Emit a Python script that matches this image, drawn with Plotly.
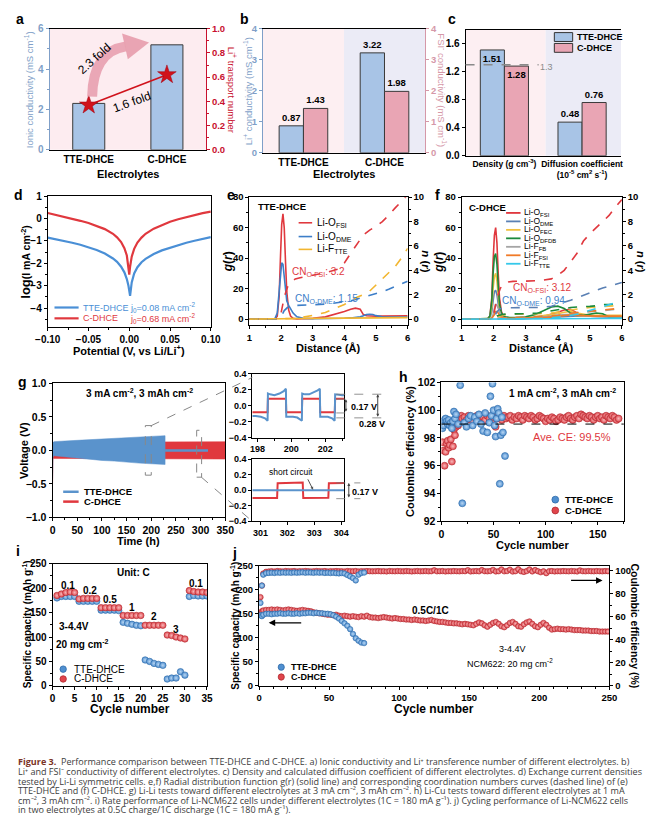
import plotly.graph_objects as go

W, H = 656, 818
FONT = "Liberation Sans, Arial, sans-serif"

# ---------------- data ----------------
a_categories = ["TTE-DHCE", "C-DHCE"]
a_ionic_conductivity = [2.3, 5.2]
a_transference_number = [0.37, 0.62]

b_categories = ["TTE-DHCE", "C-DHCE"]
b_li_conductivity = [0.87, 3.22]
b_fsi_conductivity = [1.43, 1.98]

c_categories = ["Density (g cm<sup>-3</sup>)", "Diffusion coefficient<br>(10<sup>-5</sup> cm<sup>2</sup> s<sup>-1</sup>)"]
c_tte = [1.51, 0.48]
c_cdhce = [1.28, 0.76]
c_reference_density = 1.3

d_potential = [-0.10, -0.09, -0.08, -0.07, -0.06, -0.05, -0.04, -0.03, -0.02, -0.015, -0.01, -0.006, -0.003, -0.001,
               0.0, 0.001, 0.003, 0.006, 0.01, 0.015, 0.02, 0.03, 0.04, 0.05, 0.06, 0.07, 0.08, 0.09, 0.10]
d_tte_log_i = [-0.85, -0.92, -1.0, -1.08, -1.17, -1.28, -1.4, -1.56, -1.78, -1.93, -2.15, -2.4, -2.7, -3.0,
               -3.25, -3.45, -2.85, -2.45, -2.17, -1.95, -1.8, -1.58, -1.42, -1.3, -1.18, -1.08, -0.99, -0.9, -0.83]
d_c_log_i = [0.25, 0.17, 0.09, 0.0, -0.1, -0.2, -0.32, -0.47, -0.68, -0.84, -1.05, -1.32, -1.65, -2.1,
             -2.5, -2.15, -1.7, -1.35, -1.07, -0.85, -0.68, -0.45, -0.28, -0.14, -0.03, 0.07, 0.16, 0.24, 0.31]

e_r = [1.0, 1.8, 1.88, 1.94, 1.98, 2.02, 2.06, 2.1, 2.14, 2.18, 2.24, 2.3, 2.38, 2.5, 2.7, 3.0, 3.4, 3.8, 4.0,
       4.2, 4.35, 4.5, 4.6, 4.7, 4.8, 4.9, 5.0, 5.2, 5.5, 6.0]
e_gr_o_fsi = [0, 0, 2, 15, 40, 62, 69, 60, 38, 18, 6, 2, 0.5, 0.2, 0.3, 0.5, 1.5, 3.5, 5, 6.5, 7.2, 6.5, 3, 2.2,
              2, 2, 2, 2, 2, 2.2]
e_gr_o_dme = [0, 0, 4, 18, 32, 37, 36, 28, 18, 12, 9, 7, 4, 1.5, 0.5, 0.3, 0.3, 0.5, 0.6, 0.8, 1, 1.5, 2.2, 3,
              3.2, 3, 2.3, 1.6, 1.4, 1.4]
e_gr_f_tte = [0, 0, 0, 0, 0, 0, 0, 0, 0, 0, 0, 0, 0, 0.2, 0.4, 0.5, 0.6, 0.6, 0.7, 0.7, 0.8, 0.8, 0.8, 0.9, 0.9,
              0.9, 1.0, 1.0, 1.0, 1.0]
e_r_cn = [1.0, 1.9, 2.0, 2.1, 2.2, 2.3, 2.45, 2.6, 3.0, 3.4, 3.8, 4.0, 4.2, 4.4, 4.6, 4.8, 5.0, 5.2, 5.4, 5.6, 5.8, 6.0]
e_cn_o_fsi = [0, 0, 0.5, 1.8, 2.6, 3.0, 3.3, 3.4, 3.6, 3.8, 4.1, 4.6, 5.4, 6.1, 6.9, 7.3, 7.6, 8.0, 8.5, 9.1, 9.7, 10.2]
e_cn_o_dme = [0, 0, 0.2, 0.7, 0.95, 1.05, 1.12, 1.15, 1.18, 1.22, 1.35, 1.42, 1.5, 1.65, 1.8, 1.95, 2.05, 2.25, 2.45,
              2.65, 2.85, 3.1]
e_cn_f_tte = [0, 0, 0, 0, 0, 0, 0.05, 0.12, 0.3, 0.55, 0.95, 1.2, 1.5, 1.8, 2.0, 2.3, 2.8, 3.3, 3.8, 4.3, 5.0, 5.8]

f_r = [1.0, 1.8, 1.88, 1.94, 1.98, 2.02, 2.06, 2.1, 2.14, 2.18, 2.24, 2.3, 2.38, 2.5, 2.7, 3.0, 3.3, 3.6, 3.8, 4.0,
       4.2, 4.4, 4.6, 4.8, 5.0, 5.2, 5.4, 5.6, 5.8, 6.0]
f_gr = {
    "o_fsi": [0, 0, 2, 14, 38, 55, 60, 50, 30, 14, 5, 2, 1, 0.5, 0.3, 0.5, 1, 2, 3, 4.5, 6, 6.5, 4, 2.5, 2, 2, 1.8, 1.5, 1.5, 1.5],
    "o_dme": [0, 0, 1, 5, 12, 18, 19, 16, 10, 5, 2, 1, 0.5, 0.3, 0.3, 0.3, 0.5, 0.8, 1.2, 1.5, 1.8, 2, 2.2, 2.3, 2, 1.8, 1.6, 1.5, 1.5, 1.5],
    "o_fec": [0, 0, 1, 8, 20, 28, 30, 25, 15, 7, 3, 1.5, 1, 0.8, 0.8, 1, 1.5, 2.5, 3, 3.5, 4.5, 5, 4, 3, 2.5, 2.5, 2.5, 2.5, 2.5, 2.5],
    "o_dfdb": [0, 0, 2, 12, 30, 41, 43, 36, 22, 10, 4, 2, 1.5, 1, 1, 1.5, 3, 6, 8, 8.5, 7, 4, 2.5, 2.5, 3.5, 4, 3.5, 1.5, 1, 1],
    "f_fb": [0, 0, 0, 1, 3, 7, 10, 9, 7, 4, 2, 1, 0.5, 0.3, 0.5, 0.8, 1, 1.5, 2, 2.5, 3, 3, 2.5, 2, 2, 1.8, 1.5, 1.5, 1.5, 1.5],
    "f_fsi": [0, 0, 0, 0.5, 1.5, 3, 5, 5, 4, 2.5, 1.5, 1, 0.5, 0.5, 0.5, 0.5, 0.8, 1, 1.5, 2, 2.5, 2.8, 2.5, 2.2, 2, 2, 2, 2, 2, 2],
    "f_tte": [0, 0, 0, 0, 0, 0, 0, 0, 0, 0, 0, 0, 0, 0, 0, 0.1, 0.2, 0.3, 0.3, 0.3, 0.4, 0.4, 0.4, 0.4, 0.4, 0.4, 0.4, 0.5, 0.5, 0.5],
}
f_r_cn = [1.0, 1.9, 2.0, 2.1, 2.2, 2.3, 2.45, 2.6, 3.0, 3.4, 3.8, 4.0, 4.2, 4.4, 4.6, 4.8, 5.0, 5.2, 5.4, 5.6, 5.8, 6.0]
f_cn = {
    "o_fsi": [0, 0, 0.4, 1.7, 2.5, 2.9, 3.05, 3.1, 3.12, 3.15, 3.3, 3.6, 4.0, 4.7, 5.4, 6.4, 7.0, 7.5, 8.0, 8.5, 9.2, 9.8],
    "o_dme": [0, 0, 0.15, 0.6, 0.85, 0.9, 0.94, 0.94, 0.95, 0.96, 1.05, 1.2, 1.35, 1.55, 1.75, 1.95, 2.2, 2.4, 2.55, 2.7, 2.85, 3.0],
    "o_fec": [0, 0, 0.05, 0.2, 0.3, 0.35, 0.4, 0.4, 0.42, 0.45, 0.5, 0.55, 0.65, 0.75, 0.85, 0.9, 0.95, 1.0, 1.0, 1.05, 1.1, 1.1],
    "o_dfdb": [0, 0, 0.05, 0.25, 0.35, 0.4, 0.42, 0.42, 0.45, 0.5, 0.7, 0.8, 0.9, 0.95, 1.0, 1.0, 1.05, 1.1, 1.2, 1.2, 1.25, 1.25],
    "f_fb": [0, 0, 0, 0.05, 0.1, 0.12, 0.14, 0.15, 0.15, 0.2, 0.25, 0.3, 0.35, 0.45, 0.5, 0.55, 0.6, 0.65, 0.7, 0.75, 0.8, 0.85],
    "f_fsi": [0, 0, 0, 0.03, 0.08, 0.1, 0.12, 0.13, 0.15, 0.2, 0.25, 0.3, 0.4, 0.5, 0.55, 0.6, 0.65, 0.7, 0.75, 0.8, 0.85, 0.9],
    "f_tte": [0, 0, 0, 0, 0, 0, 0, 0, 0.02, 0.05, 0.1, 0.15, 0.2, 0.3, 0.4, 0.55, 0.7, 0.85, 1.0, 1.15, 1.3, 1.5],
}
f_labels = ["Li-O<sub>FSI</sub>", "Li-O<sub>DME</sub>", "Li-O<sub>FEC</sub>", "Li-O<sub>DFDB</sub>",
            "Li-F<sub>FB</sub>", "Li-F<sub>FSI</sub>", "Li-F<sub>TTE</sub>"]
f_keys = ["o_fsi", "o_dme", "o_fec", "o_dfdb", "f_fb", "f_fsi", "f_tte"]

# g: envelopes of the dense voltage oscillation
g_tte_time = [0, 1, 3, 10, 25, 50, 75, 100, 125, 150, 175, 200, 215, 228]
g_tte_upper = [0.05, 0.12, 0.13, 0.13, 0.14, 0.15, 0.16, 0.17, 0.18, 0.19, 0.2, 0.21, 0.22, 0.22]
g_tte_lower = [-0.42, -0.1, -0.08, -0.08, -0.1, -0.12, -0.13, -0.15, -0.16, -0.17, -0.19, -0.2, -0.21, -0.21]
g_c_time = [0, 1, 3, 50, 100, 150, 200, 250, 300, 350]
g_c_upper = [0.05, 0.1, 0.12, 0.12, 0.12, 0.13, 0.13, 0.13, 0.13, 0.13]
g_c_lower = [-0.5, -0.12, -0.12, -0.12, -0.12, -0.13, -0.13, -0.13, -0.13, -0.13]
g_tte_short_time = [228, 315]
g_tte_short_v = [0.0, 0.0]

g1_tte_t = [197.7, 197.9, 198.2, 198.45, 198.6, 198.62, 198.75, 199.0, 199.3, 199.55, 199.68,
            199.7, 199.85, 200.1, 200.35, 200.5, 200.62, 200.64, 200.8, 201.05, 201.3, 201.55, 201.68,
            201.7, 201.9, 202.15, 202.4, 202.55, 202.58, 202.8, 203.0, 203.1]
g1_tte_v = [-0.13, -0.13, -0.14, -0.16, -0.19, 0.15, 0.14, 0.13, 0.15, 0.18, 0.21,
            -0.14, -0.14, -0.14, -0.15, -0.17, -0.19, 0.15, 0.14, 0.14, 0.16, 0.19, 0.21,
            -0.14, -0.14, -0.14, -0.16, -0.19, 0.14, 0.13, 0.13, 0.13]
g1_c_t = [197.7, 198.6, 198.62, 199.68, 199.7, 200.62, 200.64, 201.68, 201.7, 202.56, 202.58, 203.1]
g1_c_v = [-0.085, -0.085, 0.085, 0.085, -0.085, -0.085, 0.085, 0.085, -0.085, -0.085, 0.085, 0.085]
g2_c_t = [300.7, 301.62, 301.64, 302.0, 302.57, 302.59, 303.0, 303.52, 303.54, 304.1]
g2_c_v = [-0.1, -0.1, 0.09, 0.095, 0.1, -0.1, -0.1, -0.095, 0.09, 0.095]
g2_tte_t = [300.7, 304.1]
g2_tte_v = [0.0, 0.0]

h_tte_cycles = [1, 2, 3, 4, 5, 6, 7, 8, 9, 10, 11, 12, 13, 14,
                16, 18, 20, 22, 24, 26, 28, 30, 32, 34, 36, 38, 40, 42, 44, 46,
                47, 48, 49, 50, 51, 52, 53, 54, 55, 56, 57, 58, 59, 61]
h_tte_ce = [98.7, 98.9, 99.3, 99.4, 99.2, 99.0, 99.3, 98.9, 99.1, 98.7, 99.2, 99.9, 99.4, 99.7,
            99.0, 101.8, 93.3, 99.1, 98.8, 99.4, 99.6, 98.9, 99.5, 99.2, 99.7, 99.0, 98.5, 99.8, 98.4, 99.1,
            101.0, 99.6, 101.9, 100.0, 98.9, 98.1, 99.4, 100.1, 99.8, 94.7, 98.2, 99.5, 98.4, 96.7]
h_c_cycles = list(range(1, 21)) + list(range(22, 171, 2))
h_c_ce = [97.7, 97.1, 96.0, 97.0, 97.6, 97.8, 97.3, 97.5, 97.9, 96.3, 97.4, 98.6, 98.2, 98.8, 99.3, 98.9, 99.5, 99.2, 99.6, 99.4,
          99.5, 99.3, 99.6, 99.4, 99.2, 99.5, 99.6, 99.3, 99.4, 99.5,
          99.3, 99.6, 99.4, 99.2, 99.5, 98.8, 99.4, 99.5, 99.3, 99.6,
          99.4, 99.5, 99.6, 99.3, 99.5, 99.4, 99.6, 99.5, 99.3, 99.6,
          99.5, 99.4, 99.6, 99.5, 99.3, 99.4, 99.6, 99.5, 99.4, 99.2,
          99.4, 99.3, 99.5, 99.4, 99.2, 99.3, 99.5, 99.4, 99.3, 99.5,
          99.6, 99.4, 99.3, 99.5, 99.6, 99.4, 99.7, 99.6, 99.5, 99.4,
          99.6, 99.5, 99.3, 99.5, 99.6, 99.4, 99.5, 99.3, 99.6, 99.5,
          99.4, 99.6, 99.5, 99.3, 99.4]
h_ave_ce_line = 99.0

i_cycles = list(range(1, 36))
i_tte = [180, 183, 183, 183, 183, 173, 173, 173, 173, 173, 155, 155, 155, 155, 154,
         130, 128, 126, 124, 123, 53, 50, 46, 44, 42, 14, 16, 16, 29, 22, 183, 185, 184, 184, 184]
i_c = [185, 188, 191, 192, 191, 178, 179, 179, 179, 179, 160, 160, 160, 160, 160,
       144, 144, 144, 144, 144, 124, 124, 124, 124, 124, 104, 103, 100, 98, 96, 195, 193, 192, 192, 191]
i_rate_labels = ["0.1", "0.2", "0.5", "1", "2", "3", "0.1"]
i_rate_label_cycle = [3.5, 8.5, 13, 18, 23, 28, 32.5]
i_rate_label_cap = [206, 195, 177, 161, 141, 115, 210]

j_c_cycles = [1, 2] + list(range(3, 250, 2))
j_c_capacity = [150, 155,
                157, 158, 158, 159, 158, 159, 158, 157, 158, 159,
                158, 157, 156, 157, 158, 157, 156, 155, 153, 152,
                151, 150, 149, 148, 148, 147, 148, 146, 145, 146,
                145, 144, 145, 144, 143, 145, 144, 146, 143, 142,
                142, 141, 142, 143, 142, 141, 140, 141, 140, 139,
                139, 138, 138, 137, 138, 137, 136, 136, 135, 136,
                137, 135, 134, 133, 133, 132, 131, 131, 130, 130,
                129, 128, 129, 128, 127, 126, 129, 132, 130, 126,
                123, 127, 131, 133, 129, 124, 122, 126, 131, 133,
                129, 124, 123, 128, 132, 134, 129, 124, 122, 127,
                131, 127, 121, 117, 118, 119, 118, 118, 117, 118,
                117, 116, 116, 116, 115, 115, 115, 114, 114, 114,
                113, 113, 113, 113]
j_c_ce = [77, 87,
          97.5, 99.0, 99.3, 99.5, 99.2, 99.6, 99.4, 99.3, 99.6, 99.5,
          99.4, 99.6, 99.3, 99.5, 99.4, 99.6, 99.5, 99.3, 99.4, 99.6,
          99.5, 99.4, 99.6, 99.3, 99.5, 99.4, 99.6, 99.5, 99.4, 99.3,
          99.6, 99.5, 99.4, 99.6, 99.3, 99.5, 99.4, 99.6, 99.5, 99.4,
          99.5, 99.6, 99.4, 99.5, 99.3, 99.6, 99.5, 99.4, 99.6, 99.5,
          99.4, 99.6, 99.5, 99.3, 99.5, 99.6, 99.4, 99.5, 99.6, 99.4,
          99.5, 100.3, 99.4, 99.5, 99.6, 99.3, 99.5, 99.4, 99.6, 99.5,
          99.4, 99.6, 99.5, 100.4, 99.3, 99.5, 99.6, 99.4, 100.5, 99.5,
          99.4, 99.6, 100.6, 99.3, 99.5, 101.0, 99.4, 99.6, 100.8, 99.2,
          99.5, 101.2, 99.4, 98.9, 99.6, 101.0, 99.3, 100.5, 99.5, 98.6,
          99.4, 97.8, 99.5, 99.6, 99.3, 99.5, 99.4, 99.6, 99.5, 99.4,
          99.6, 99.5, 99.3, 100.2, 99.5, 99.4, 99.6, 99.5, 99.4, 99.6,
          99.5, 99.4, 99.6, 99.5]
j_tte_cycles = [1, 2] + list(range(3, 76, 2))
j_tte_capacity = [147, 145,
                  148, 150, 150, 149, 150, 150, 151, 150, 150, 151,
                  150, 150, 151, 150, 151, 151, 152, 152, 151, 152,
                  151, 151, 150, 150, 149, 147, 144, 140, 135, 130,
                  125, 118, 108, 99, 94, 90, 89]
j_tte_ce = [72, 87,
            96.5, 97.8, 98.0, 98.2, 98.0, 98.3, 98.1, 98.4, 98.2, 98.3,
            98.1, 98.4, 98.2, 98.3, 98.5, 98.2, 98.4, 98.3, 98.1, 98.4,
            98.2, 98.3, 98.0, 98.2, 97.9, 98.1, 97.8, 97.6, 97.9, 97.5,
            96.2, 95.0, 93.5, 91.5, 96.5, 98.0, 98.3]

caption_lines = [
    "<b style='color:#7a3326'>Figure 3.</b>  Performance comparison between TTE-DHCE and C-DHCE. a) Ionic conductivity and Li⁺ transference number of different electrolytes. b)",
    "Li⁺ and FSI⁻ conductivity of different electrolytes. c) Density and calculated diffusion coefficient of different electrolytes. d) Exchange current densities",
    "tested by Li-Li symmetric cells. e,f) Radial distribution function g(r) (solid line) and corresponding coordination numbers curves (dashed line) of (e)",
    "TTE-DHCE and (f) C-DHCE. g) Li-Li tests toward different electrolytes at 3 mA cm⁻², 3 mAh cm⁻². h) Li-Cu tests toward different electrolytes at 1 mA",
    "cm⁻², 3 mAh cm⁻². i) Rate performance of Li-NCM622 cells under different electrolytes (1C = 180 mA g⁻¹). j) Cycling performance of Li-NCM622 cells",
    "in two electrolytes at 0.5C charge/1C discharge (1C = 180 mA g⁻¹).",
]

# ---------------- styles ----------------
BAR_BLUE = "#a8c4e6"
BAR_PINK = "#e9a5b4"
RED = "#e0383e"
BLUE = "#4a8fd6"
AX_BLUE = "#7f9fc8"
AX_RED = "#c8102e"
AX_PINK = "#d598a8"
F_COLORS = ["#e0383e", "#5a80b4", "#f0c040", "#1c8a3c", "#a5a5a5", "#f07a28", "#35c8ea"]


def xd(l, r):
    return [l / W, r / W]


def yd(t, b):
    return [1 - b / H, 1 - t / H]


def PX(x):
    return x / W


def PY(y):
    return 1 - y / H


def axis(domain, size=10, **kw):
    d = dict(domain=domain, showline=True, linecolor="black", linewidth=1, ticks="outside", ticklen=3,
             tickwidth=1, tickcolor="black", showgrid=False, zeroline=False, fixedrange=True,
             tickfont=dict(family=FONT, size=size, color="black", weight="bold"))
    d.update(kw)
    return d


shapes = []
ann = []


def text(x, y, s, size=10, color="black", bold=False, angle=0, xanchor="center", family=FONT):
    ann.append(dict(x=PX(x), y=PY(y), xref="paper", yref="paper", text=s, showarrow=False,
                    font=dict(family=family, size=size, color=color, weight="bold" if bold else "normal"),
                    textangle=angle, xanchor=xanchor, yanchor="middle"))


def hline(x0, x1, y, color, width=2, dash="solid"):
    shapes.append(dict(type="line", xref="paper", yref="paper", x0=PX(x0), x1=PX(x1), y0=PY(y), y1=PY(y),
                       line=dict(color=color, width=width, dash=dash)))


def pline(x0, y0, x1, y1, color="#888", width=1, dash="dash"):
    shapes.append(dict(type="line", xref="paper", yref="paper", x0=PX(x0), x1=PX(x1), y0=PY(y0), y1=PY(y1),
                       line=dict(color=color, width=width, dash=dash)))


def rect(x0, y0, x1, y1, fill, line_color=None, layer="below"):
    shapes.append(dict(type="rect", xref="paper", yref="paper", x0=PX(x0), x1=PX(x1), y0=PY(y1), y1=PY(y0),
                       fillcolor=fill, line=dict(color=line_color or fill, width=1 if line_color else 0),
                       layer=layer))


def dot(x, y, r, color, edge):
    shapes.append(dict(type="circle", xref="paper", yref="paper", x0=PX(x - r), x1=PX(x + r), y0=PY(y + r),
                       y1=PY(y - r), fillcolor=color, line=dict(color=edge, width=0.8), layer="above"))


def arrow(xh, yh, ax, ay, color="#444", both=False, width=1, size=0.8):
    ann.append(dict(x=PX(xh), y=PY(yh), xref="paper", yref="paper", text="", showarrow=True, ax=ax, ay=ay,
                    arrowhead=2, arrowsize=size, arrowwidth=width, arrowcolor=color,
                    arrowside="end+start" if both else "end"))


def P2(x, y):
    return f"{PX(x):.5f},{PY(y):.5f}"


BAR_TEXT = dict(size=9.5, color="black", weight="bold", family=FONT)

fig = go.Figure()

# ---------------- panel a ----------------
rect(38, 23, 200, 146, "#fdecf0")
fig.add_trace(go.Bar(x=a_categories, y=a_ionic_conductivity, xaxis="x", yaxis="y", width=0.41,
                     marker=dict(color=BAR_BLUE, line=dict(color="#3a3a3a", width=1))))
fig.add_trace(go.Scatter(x=a_categories, y=a_transference_number, xaxis="x", yaxis="y2", mode="lines+markers",
                         line=dict(color="#d0121b", width=1.6),
                         marker=dict(symbol="star", size=14, color="#d0121b", line=dict(color="#a00010", width=0.5))))
shapes.append(dict(type="path", xref="paper", yref="paper", path=f"M {P2(82, 92)} Q {P2(83, 46)} {P2(117, 41)}",
                   line=dict(color="rgba(232,160,175,0.9)", width=10), layer="above"))
shapes.append(dict(type="path", xref="paper", yref="paper",
                   path=f"M {P2(113, 28)} L {P2(119, 54)} L {P2(141, 37)} Z",
                   fillcolor="rgba(232,160,175,0.95)", line=dict(width=0), layer="above"))
text(84, 54, "2.3 fold", size=12, angle=-42)
text(123, 97, "1.6 fold", size=12, angle=-20)
text(16, 85, "Ionic conductivity (mS cm<sup>-1</sup>)", size=9.5, color=AX_BLUE, angle=-90)
text(227, 85, "Li<sup>+</sup> transport number", size=9.5, color=AX_RED, angle=90)
text(119, 170, "Electrolytes", size=11, bold=True)

# ---------------- panel b ----------------
rect(259, 23, 343, 149, "#fdeff2")
rect(343, 23, 427, 149, "#ebebf6")
fig.add_trace(go.Bar(x=b_categories, y=b_li_conductivity, xaxis="x2", yaxis="y3", width=0.3, offset=-0.3,
                     marker=dict(color=BAR_BLUE, line=dict(color="#3a3a3a", width=1)),
                     texttemplate="%{y:.2f}", textposition="outside", cliponaxis=False, constraintext="none",
                     textangle=0, textfont=BAR_TEXT))
fig.add_trace(go.Bar(x=b_categories, y=b_fsi_conductivity, xaxis="x2", yaxis="y4", width=0.3, offset=0,
                     marker=dict(color=BAR_PINK, line=dict(color="#3a3a3a", width=1)),
                     texttemplate="%{y:.2f}", textposition="outside", cliponaxis=False, constraintext="none",
                     textangle=0, textfont=BAR_TEXT))
text(243, 86, "Li<sup>+</sup> conductivity (mS cm<sup>-1</sup>)", size=9.5, color=AX_BLUE, angle=-90)
text(445, 86, "FSI<sup>-</sup> conductivity (mS cm<sup>-1</sup>)", size=9.5, color=AX_PINK, angle=90)
text(343, 170, "Electrolytes", size=11, bold=True)

# ---------------- panel c ----------------
rect(469, 24, 552, 152, "#fdeff2")
rect(552, 24, 630, 152, "#ebebf6")
fig.add_trace(go.Bar(x=c_categories, y=c_tte, xaxis="x3", yaxis="y5", width=0.31, offset=-0.31,
                     marker=dict(color=BAR_BLUE, line=dict(color="#3a3a3a", width=1)),
                     texttemplate="%{y:.2f}", textposition=["inside", "outside"], insidetextanchor="end",
                     cliponaxis=False, constraintext="none", textangle=0, textfont=BAR_TEXT))
fig.add_trace(go.Bar(x=c_categories, y=c_cdhce, xaxis="x3", yaxis="y5", width=0.31, offset=0,
                     marker=dict(color=BAR_PINK, line=dict(color="#3a3a3a", width=1)),
                     texttemplate="%{y:.2f}", textposition=["inside", "outside"], insidetextanchor="end",
                     cliponaxis=False, constraintext="none", textangle=0, textfont=BAR_TEXT))
shapes.append(dict(type="line", xref="x3 domain", yref="y5", x0=0, x1=0.47, y0=c_reference_density,
                   y1=c_reference_density, line=dict(color="#8a8a8a", width=1.5, dash="dash"), layer="above"))
text(553, 62, "1.3", size=9, color="#8a8a8a")
rect(561, 27, 580, 36, BAR_BLUE, "#333", layer="above")
rect(561, 38, 580, 47, BAR_PINK, "#333", layer="above")
text(582, 31.5, "TTE-DHCE", size=9, bold=True, xanchor="left")
text(582, 42.5, "C-DHCE", size=9, bold=True, xanchor="left")

# ---------------- panel d ----------------
fig.add_trace(go.Scatter(x=d_potential, y=d_tte_log_i, xaxis="x4", yaxis="y7", mode="lines",
                         line=dict(color=BLUE, width=2.2)))
fig.add_trace(go.Scatter(x=d_potential, y=d_c_log_i, xaxis="x4", yaxis="y7", mode="lines",
                         line=dict(color=RED, width=2.2)))
hline(43, 68, 306, BLUE, 2.2)
hline(43, 68, 317, RED, 2.2)
text(70, 306, "TTE-DHCE", size=9, color=BLUE, xanchor="left")
text(70, 317, "C-DHCE", size=9, color=RED, xanchor="left")
text(119, 306, "j<sub>0</sub>=0.08 mA cm<sup>-2</sup>", size=9, color=BLUE, xanchor="left")
text(119, 317, "j<sub>0</sub>=0.68 mA cm<sup>-2</sup>", size=9, color=RED, xanchor="left")
text(13, 260, "<span style='font-size:13px'>log</span>(I mA cm<sup>-2</sup>)", size=10.5, bold=True, angle=-90)
text(120, 349, "Potential (V, vs Li/Li<sup>+</sup>)", size=11, bold=True)

# ---------------- panel e ----------------
e_colors = [RED, "#3d7ec8", "#f2b630"]
for ys, col in zip([e_gr_o_fsi, e_gr_o_dme, e_gr_f_tte], e_colors):
    fig.add_trace(go.Scatter(x=e_r, y=ys, xaxis="x5", yaxis="y8", mode="lines", line=dict(color=col, width=1.6)))
for ys, col in zip([e_cn_o_fsi, e_cn_o_dme, e_cn_f_tte], e_colors):
    fig.add_trace(go.Scatter(x=e_r_cn, y=ys, xaxis="x5", yaxis="y9", mode="lines",
                             line=dict(color=col, width=1.6, dash="dash")))
text(252, 203, "TTE-DHCE", size=9.5, bold=True, xanchor="left")
for k, (lab, col) in enumerate(zip(["Li-O<sub>FSI</sub>", "Li-O<sub>DME</sub>", "Li-F<sub>TTE</sub>"], e_colors)):
    yy = [220, 234, 247][k]
    hline(296, 310, yy, col, 1.6)
    text(313, yy, lab, size=10, xanchor="left")
text(317, 270, "CN<sub>O-FSI</sub>: 3.2", size=10, color=RED)
text(325, 297, "CN<sub>O-DME</sub>: 1.15", size=10, color="#3d7ec8")
text(223, 260, "<i>g</i>(<i>r</i>)", size=12, bold=True, angle=-90)
text(428, 260, "<i>n</i> (<i>r</i>)", size=11.5, bold=True, angle=90)
text(327, 347, "Distance (Å)", size=11, bold=True)

# ---------------- panel f ----------------
for key, col in zip(f_keys, F_COLORS):
    fig.add_trace(go.Scatter(x=f_r, y=f_gr[key], xaxis="x6", yaxis="y10", mode="lines", line=dict(color=col, width=1.6)))
for key, col in zip(f_keys, F_COLORS):
    fig.add_trace(go.Scatter(x=f_r_cn, y=f_cn[key], xaxis="x6", yaxis="y11", mode="lines",
                             line=dict(color=col, width=1.6, dash="dash")))
text(470, 204, "C-DHCE", size=9.5, bold=True, xanchor="left")
for k, (lab, col) in enumerate(zip(f_labels, F_COLORS)):
    yy = 210 + 8.6 * k
    hline(511, 526, yy, col, 1.8)
    text(528, yy, lab, size=8.5, xanchor="left")
text(549, 286, "CN<sub>O-FSI</sub>: 3.12", size=10, color=RED)
text(539, 299, "CN<sub>O-DME</sub>: 0.94", size=10, color="#3d7ec8")
text(442, 260, "<i>g</i>(<i>r</i>)", size=12, bold=True, angle=-90)
text(651, 260, "<i>n</i> (<i>r</i>)", size=11, bold=True, angle=90)
text(548, 347, "Distance (Å)", size=11, bold=True)

# ---------------- panel g ----------------
fig.add_trace(go.Scatter(x=g_c_time + g_c_time[::-1], y=g_c_upper + g_c_lower[::-1], xaxis="x7", yaxis="y12",
                         mode="lines", fill="toself", fillcolor=RED, line=dict(color=RED, width=0.5)))
fig.add_trace(go.Scatter(x=g_tte_time + g_tte_time[::-1], y=g_tte_upper + g_tte_lower[::-1], xaxis="x7", yaxis="y12",
                         mode="lines", fill="toself", fillcolor="#5a93cc", line=dict(color="#5a93cc", width=0.5)))
fig.add_trace(go.Scatter(x=g_tte_short_time, y=g_tte_short_v, xaxis="x7", yaxis="y12", mode="lines",
                         line=dict(color="#5a93cc", width=2.5)))
shapes.append(dict(type="rect", xref="x7", yref="y12", x0=188, x1=200, y0=-0.37, y1=0.37,
                   line=dict(color="#888", width=1, dash="dash"), layer="above"))
shapes.append(dict(type="rect", xref="x7", yref="y12", x0=292, x1=302, y0=-0.4, y1=0.3,
                   line=dict(color="#888", width=1, dash="dash"), layer="above"))
pline(143, 426, 248, 377)
pline(195, 478, 248, 523)
hline(52, 68, 493, "#5a93cc", 2.5)
hline(52, 68, 503, RED, 2.5)
text(72, 493, "TTE-DHCE", size=9.5, bold=True, xanchor="left")
text(72, 503, "C-DHCE", size=9.5, bold=True, xanchor="left")
text(131, 393, "3 mA cm<sup>-2</sup>, 3 mAh cm<sup>-2</sup>", size=10, bold=True)
text(12, 451, "Voltage (V)", size=11, bold=True, angle=-90)
text(130, 543, "Time (h)", size=11, bold=True)
# inset 1
fig.add_trace(go.Scatter(x=g1_c_t, y=g1_c_v, xaxis="x8", yaxis="y13", mode="lines", line=dict(color=RED, width=2)))
fig.add_trace(go.Scatter(x=g1_tte_t, y=g1_tte_v, xaxis="x8", yaxis="y13", mode="lines",
                         line=dict(color="#5a93cc", width=2)))
for yy, x1 in [(394, 382), (399, 352), (413, 352), (418, 382)]:
    pline(335, yy, x1, yy, color="#777", width=0.8)
arrow(345, 399, 0, 14, both=True, size=0.6)
arrow(378, 394, 0, 24, both=True, size=0.6)
text(364, 407, "0.17 V", size=9, bold=True)
text(372, 424, "0.28 V", size=9, bold=True)
# inset 2
fig.add_trace(go.Scatter(x=g2_c_t, y=g2_c_v, xaxis="x9", yaxis="y14", mode="lines", line=dict(color=RED, width=2)))
fig.add_trace(go.Scatter(x=g2_tte_t, y=g2_tte_v, xaxis="x9", yaxis="y14", mode="lines",
                         line=dict(color="#5a93cc", width=2)))
for yy in [484, 500]:
    pline(335, yy, 360, yy, color="#777", width=0.8)
arrow(348, 484, 0, 16, both=True, size=0.6)
text(365, 493, "0.17 V", size=9, bold=True)
text(288, 473, "short circuit", size=8.5)
arrow(311, 491, -6, -12, size=0.6, color="#555")

# ---------------- panel h ----------------
shapes.append(dict(type="line", xref="x10 domain", yref="y15", x0=0, x1=1, y0=h_ave_ce_line, y1=h_ave_ce_line,
                   line=dict(color="black", width=1, dash="dash"), layer="above"))
fig.add_trace(go.Scatter(x=h_c_cycles, y=h_c_ce, xaxis="x10", yaxis="y15", mode="markers",
                         marker=dict(size=7, color="#e0454c", line=dict(color="#b02a30", width=0.6),
                                     gradient=dict(type="radial", color="#f7b9bb"))))
fig.add_trace(go.Scatter(x=h_tte_cycles, y=h_tte_ce, xaxis="x10", yaxis="y15", mode="markers",
                         marker=dict(size=7, color="#4f8fd0", line=dict(color="#2d6aa8", width=0.6),
                                     gradient=dict(type="radial", color="#b9d6f2"))))
text(569, 393, "1 mA cm<sup>-2</sup>, 3 mAh cm<sup>-2</sup>", size=10, bold=True)
text(579, 437, "Ave. CE: 99.5%", size=11, color=RED)
dot(562, 501, 3.5, "#4f8fd0", "#2d6aa8")
dot(562, 512, 3.5, "#e0454c", "#b02a30")
text(570, 501, "TTE-DHCE", size=9.5, bold=True, xanchor="left")
text(570, 512, "C-DHCE", size=9.5, bold=True, xanchor="left")
text(412, 452, "Coulombic efficiency (%)", size=11, bold=True, angle=-90)
text(538, 547, "Cycle number", size=11, bold=True)

# ---------------- panel i ----------------
fig.add_trace(go.Scatter(x=i_cycles, y=i_tte, xaxis="x11", yaxis="y16", mode="markers",
                         marker=dict(size=6.5, color="#4f8fd0", line=dict(color="#2d6aa8", width=0.6),
                                     gradient=dict(type="radial", color="#b9d6f2"))))
fig.add_trace(go.Scatter(x=i_cycles, y=i_c, xaxis="x11", yaxis="y16", mode="markers",
                         marker=dict(size=6.5, color="#e0454c", line=dict(color="#b02a30", width=0.6),
                                     gradient=dict(type="radial", color="#f7b9bb"))))
for lab, cx, cy in zip(i_rate_labels, i_rate_label_cycle, i_rate_label_cap):
    ann.append(dict(x=cx, y=cy, xref="x11", yref="y16", text=lab, showarrow=False,
                    font=dict(family=FONT, size=10, weight="bold", color="black")))
text(125, 575, "Unit: C", size=10, bold=True)
text(63, 630, "3-4.4V", size=10, bold=True)
text(72, 647, "20 mg cm<sup>-2</sup>", size=10, bold=True)
dot(52, 673, 3.3, "#4f8fd0", "#2d6aa8")
dot(52, 683, 3.3, "#e0454c", "#b02a30")
text(61, 673, "TTE-DHCE", size=10, xanchor="left")
text(61, 683, "C-DHCE", size=10, xanchor="left")
text(14, 628, "Specific capacity (mAh g<sup>-1</sup>)", size=10, bold=True, angle=-90)
text(121, 713, "Cycle number", size=12, bold=True)

# ---------------- panel j ----------------
fig.add_trace(go.Scatter(x=j_c_cycles, y=j_c_capacity, xaxis="x12", yaxis="y17", mode="markers",
                         marker=dict(size=5.5, color="#e0454c", line=dict(color="#b02a30", width=0.6),
                                     gradient=dict(type="radial", color="#f7b9bb"))))
fig.add_trace(go.Scatter(x=j_c_cycles, y=j_c_ce, xaxis="x12", yaxis="y18", mode="markers",
                         marker=dict(size=5.5, color="#e0454c", line=dict(color="#b02a30", width=0.6),
                                     gradient=dict(type="radial", color="#f7b9bb"))))
fig.add_trace(go.Scatter(x=j_tte_cycles, y=j_tte_capacity, xaxis="x12", yaxis="y17", mode="markers",
                         marker=dict(size=5.5, color="#4f8fd0", line=dict(color="#2d6aa8", width=0.6),
                                     gradient=dict(type="radial", color="#b9d6f2"))))
fig.add_trace(go.Scatter(x=j_tte_cycles, y=j_tte_ce, xaxis="x12", yaxis="y18", mode="markers",
                         marker=dict(size=5.5, color="#4f8fd0", line=dict(color="#2d6aa8", width=0.6),
                                     gradient=dict(type="radial", color="#b9d6f2"))))
arrow(265, 626, 34, 0, color="black", size=1, width=1.3)
arrow(611, 583, -33, 0, color="black", size=1, width=1.3)
text(433, 613, "0.5C/1C", size=10, bold=True)
text(518, 653, "3-4.4V", size=9)
text(515, 667, "NCM622: 20 mg cm<sup>-2</sup>", size=9)
dot(278, 671, 3.2, "#4f8fd0", "#2d6aa8")
dot(278, 681, 3.2, "#e0454c", "#b02a30")
text(286, 671, "TTE-DHCE", size=9, bold=True, xanchor="left")
text(286, 681, "C-DHCE", size=9, bold=True, xanchor="left")
text(230, 629, "Specific capacity (mAh g<sup>-1</sup>)", size=10, bold=True, angle=-90)
text(645, 629, "Coulombic efficiency (%)", size=10.5, bold=True, angle=90)
text(436, 713, "Cycle number", size=12, bold=True)

# panel letters
for lab, x, y in [("a", 7, 13), ("b", 240, 13), ("c", 455, 13), ("d", 6, 192), ("e", 226, 192),
                  ("f", 440, 192), ("g", 10, 382), ("h", 405, 377), ("i", 5, 553), ("j", 230, 555)]:
    text(x, y, lab, size=14, bold=True)

# caption
for k, line in enumerate(caption_lines):
    yy = [767, 777, 787, 796.5, 806, 815.5][k]
    ann.append(dict(x=PX(4), y=PY(yy), xref="paper", yref="paper", text=line, showarrow=False, xanchor="left",
                    yanchor="middle", borderpad=0, font=dict(family="Open Sans", size=9.05, color="#3c3c3c")))

# ---------------- layout ----------------
layout = dict(
    width=W, height=H, margin=dict(l=0, r=0, t=0, b=0), paper_bgcolor="white", plot_bgcolor="rgba(0,0,0,0)",
    showlegend=False, barmode="overlay", font=dict(family=FONT, color="black"),
    shapes=shapes, annotations=ann,
    # a
    xaxis=axis(xd(38, 200), range=[-0.5, 1.5], ticks="", mirror=True, tickangle=0),
    yaxis=axis(yd(23, 146), anchor="x", range=[0, 6], dtick=2, linecolor=AX_BLUE, tickcolor=AX_BLUE,
               tickfont=dict(family=FONT, size=10, color=AX_BLUE, weight="bold"),
               minor=dict(ticks="outside", ticklen=2, dtick=1, tickcolor=AX_BLUE)),
    yaxis2=axis(yd(23, 146), anchor="x", overlaying="y", side="right", range=[0, 1], dtick=0.2, tickformat=".1f",
                linecolor=AX_RED, tickcolor=AX_RED, tickfont=dict(family=FONT, size=9.5, color=AX_RED, weight="bold"),
                minor=dict(ticks="outside", ticklen=2, dtick=0.1, tickcolor=AX_RED)),
    # b
    xaxis2=axis(xd(259, 427), anchor="y3", range=[-0.5, 1.5], ticks="", mirror=True, tickangle=0),
    yaxis3=axis(yd(23, 149), anchor="x2", range=[0, 4], dtick=1, linecolor=AX_BLUE, tickcolor=AX_BLUE,
                tickfont=dict(family=FONT, size=9.5, color=AX_BLUE, weight="bold")),
    yaxis4=axis(yd(23, 149), anchor="x2", overlaying="y3", side="right", range=[0, 4], dtick=1,
                linecolor=AX_PINK, tickcolor=AX_PINK, tickfont=dict(family=FONT, size=9.5, color=AX_PINK, weight="bold")),
    # c
    xaxis3=axis(xd(469, 630), anchor="y5", range=[-0.5, 1.5], ticks="", mirror=True, size=8.5, tickangle=0),
    yaxis5=axis(yd(24, 152), anchor="x3", range=[0, 1.8], tickvals=[0, 0.4, 0.8, 1.2, 1.6], tickformat=".1f"),
    yaxis6=axis(yd(24, 152), anchor="x3", overlaying="y5", side="right", range=[0, 1.8],
                tickvals=[0, 0.4, 0.8, 1.2, 1.6], tickformat=".1f"),
    # d
    xaxis4=axis(xd(36, 205), anchor="y7", range=[-0.1, 0.1], dtick=0.05, tickformat=".2f", mirror=True,
                minor=dict(ticks="outside", ticklen=2, dtick=0.025)),
    yaxis7=axis(yd(193, 326), anchor="x4", range=[-4.85, 1], dtick=1, mirror=True,
                minor=dict(ticks="outside", ticklen=2, dtick=0.5)),
    # e
    xaxis5=axis(xd(245, 409), anchor="y8", range=[1, 6], dtick=1, mirror=True, size=9.5,
                minor=dict(ticks="outside", ticklen=2, dtick=0.5)),
    yaxis8=axis(yd(194, 324), anchor="x5", range=[-4, 80], tickvals=[0, 20, 40, 60, 80], size=9.5,
                minor=dict(ticks="outside", ticklen=2, tickvals=[10, 30, 50, 70])),
    yaxis9=axis(yd(194, 324), anchor="x5", overlaying="y8", side="right", range=[-0.5, 10],
                tickvals=[0, 2, 4, 6, 8, 10], size=9.5, minor=dict(ticks="outside", ticklen=2, tickvals=[1, 3, 5, 7, 9])),
    # f
    xaxis6=axis(xd(465, 631), anchor="y10", range=[1, 6], dtick=1, mirror=True, size=9.5,
                minor=dict(ticks="outside", ticklen=2, dtick=0.5)),
    yaxis10=axis(yd(194, 324), anchor="x6", range=[-4, 80], tickvals=[0, 20, 40, 60, 80], size=9.5,
                 minor=dict(ticks="outside", ticklen=2, tickvals=[10, 30, 50, 70])),
    yaxis11=axis(yd(194, 324), anchor="x6", overlaying="y10", side="right", range=[-0.5, 10],
                 tickvals=[0, 2, 4, 6, 8, 10], size=9.5, minor=dict(ticks="outside", ticklen=2, tickvals=[1, 3, 5, 7, 9])),
    # g main
    xaxis7=axis(xd(41, 220), anchor="y12", range=[0, 350], dtick=50, mirror=True, size=10.5,
                minor=dict(ticks="outside", ticklen=2, dtick=25)),
    yaxis12=axis(yd(383, 519), anchor="x7", range=[-1, 1], dtick=0.5, tickformat=".1f", mirror=True, size=10.5,
                 minor=dict(ticks="outside", ticklen=2, dtick=0.25)),
    # g insets
    xaxis8=axis(xd(248, 343), anchor="y13", range=[197.7, 203.1], tickvals=[198, 200, 202], mirror=True, size=9,
                minor=dict(ticks="outside", ticklen=2, tickvals=[199, 201, 203])),
    yaxis13=axis(yd(373, 438), anchor="x8", range=[-0.4, 0.4], dtick=0.2, tickformat=".1f", mirror=True, size=9),
    xaxis9=axis(xd(248, 343), anchor="y14", range=[300.7, 304.1], tickvals=[301, 302, 303, 304], mirror=True, size=9),
    yaxis14=axis(yd(460, 523), anchor="x9", range=[-0.4, 0.4], dtick=0.2, tickformat=".1f", mirror=True, size=9),
    # h
    xaxis10=axis(xd(444, 633), anchor="y15", range=[0, 175], dtick=50, mirror=True, size=10.5,
                 minor=dict(ticks="outside", ticklen=2, dtick=25)),
    yaxis15=axis(yd(382, 523), anchor="x10", range=[92, 102], dtick=2, mirror=True, size=10.5,
                 minor=dict(ticks="outside", ticklen=2, dtick=1)),
    # i
    xaxis11=axis(xd(41, 201), anchor="y16", range=[0, 35], dtick=5, mirror=True, size=10,
                 minor=dict(ticks="outside", ticklen=2, dtick=2.5)),
    yaxis16=axis(yd(566, 690), anchor="x11", range=[0, 250], dtick=50, mirror=True, size=10,
                 minor=dict(ticks="outside", ticklen=2, dtick=25)),
    # j
    xaxis12=axis(xd(255, 618), anchor="y17", range=[0, 250], dtick=50, mirror=True, size=9.5,
                 minor=dict(ticks="outside", ticklen=2, dtick=10)),
    yaxis17=axis(yd(568, 690), anchor="x12", range=[0, 250], dtick=50, size=9.5,
                 minor=dict(ticks="outside", ticklen=2, dtick=25)),
    yaxis18=axis(yd(568, 690), anchor="x12", overlaying="y17", side="right", range=[0, 104.3], dtick=20, size=9.5,
                 minor=dict(ticks="outside", ticklen=2, dtick=10)),
)
fig.update_layout(**layout)
fig.write_html("out.html")
